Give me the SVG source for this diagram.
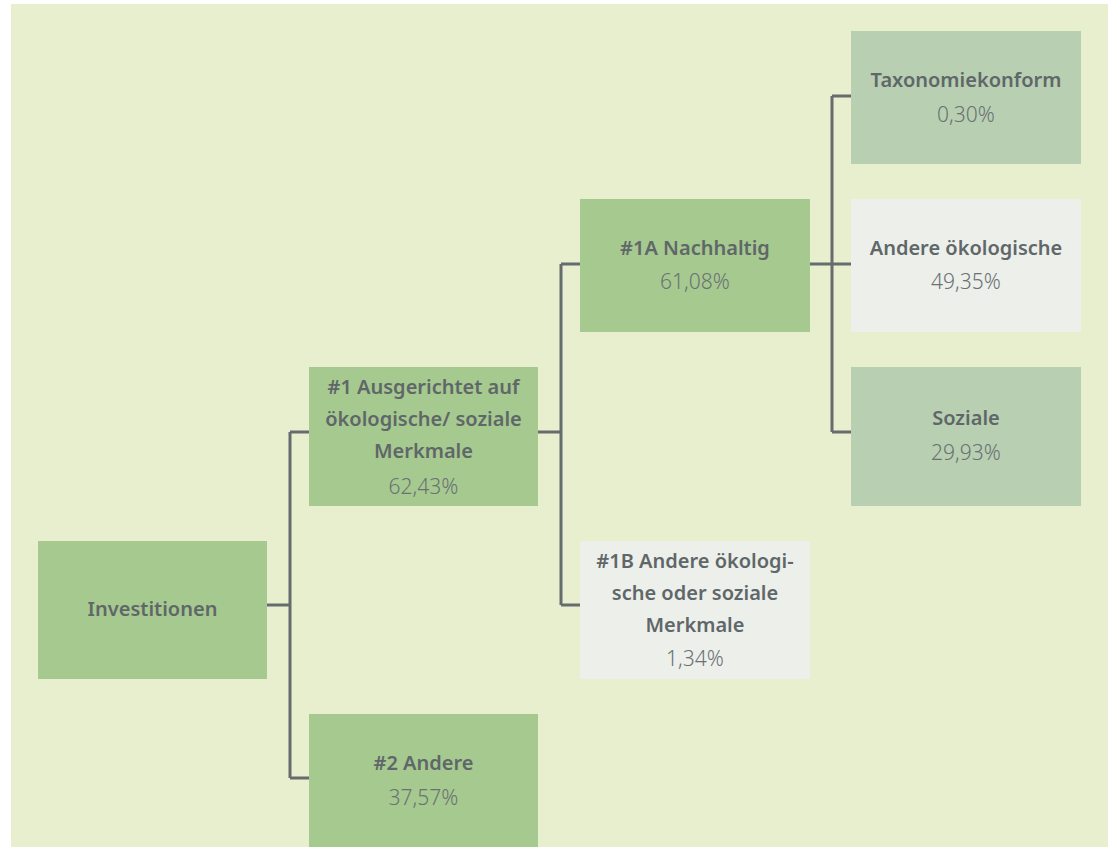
<svg xmlns="http://www.w3.org/2000/svg" width="1112" height="847" viewBox="0 0 1112 847">
<style>
.t{font-family:"Noto Sans","Liberation Sans",sans-serif;font-size:20px;font-weight:600;fill:#5f6769;text-anchor:middle}
.p{font-family:"Noto Sans","Liberation Sans",sans-serif;font-size:21px;font-weight:300;fill:#6a7274;text-anchor:middle}
.g{fill:#a6c98f}
.s{fill:#b8cfb2}
.l{fill:#edefeb}
.c{fill:none;stroke:#646c6e;stroke-width:3}
</style>
<rect x="0" y="0" width="1112" height="847" fill="#ffffff"/>
<rect x="11" y="4" width="1097" height="843" fill="#e8efcf"/>
<g id="connectors">
<path class="c" d="M267 605H290M290 432V778M290 432H309M290 778H309"/>
<path class="c" d="M538 432H561M561 264V605M561 264H580M561 605H580"/>
<path class="c" d="M810 264H832M832 96V432M832 96H851M832 264H851M832 432H851"/>
</g>
<g id="investitionen">
<rect class="g" x="38" y="541" width="229" height="138"/>
<text class="t" x="152.5" y="616">Investitionen</text>
</g>
<g id="n1">
<rect class="g" x="309" y="367" width="229" height="139"/>
<text class="t" x="423.5" y="394">#1 Ausgerichtet auf</text>
<text class="t" x="423.5" y="426">ökologische/ soziale</text>
<text class="t" x="423.5" y="458">Merkmale</text>
<text class="p" x="423.5" y="494">62,43%</text>
</g>
<g id="n2">
<rect class="g" x="309" y="714" width="229" height="133"/>
<text class="t" x="423.5" y="770">#2 Andere</text>
<text class="p" x="423.5" y="805">37,57%</text>
</g>
<g id="n1a">
<rect class="g" x="580" y="199" width="230" height="133"/>
<text class="t" x="695" y="255">#1A Nachhaltig</text>
<text class="p" x="695" y="289">61,08%</text>
</g>
<g id="n1b">
<rect class="l" x="580" y="541" width="230" height="138"/>
<text class="t" x="695" y="568">#1B Andere ökologi-</text>
<text class="t" x="695" y="600">sche oder soziale</text>
<text class="t" x="695" y="632">Merkmale</text>
<text class="p" x="695" y="666">1,34%</text>
</g>
<g id="taxonomie">
<rect class="s" x="851" y="31" width="230" height="133"/>
<text class="t" x="966" y="87">Taxonomiekonform</text>
<text class="p" x="966" y="122">0,30%</text>
</g>
<g id="andere-oeko">
<rect class="l" x="851" y="199" width="230" height="133"/>
<text class="t" x="966" y="255">Andere ökologische</text>
<text class="p" x="966" y="289">49,35%</text>
</g>
<g id="soziale">
<rect class="s" x="851" y="367" width="230" height="139"/>
<text class="t" x="966" y="425">Soziale</text>
<text class="p" x="966" y="460">29,93%</text>
</g>
</svg>
